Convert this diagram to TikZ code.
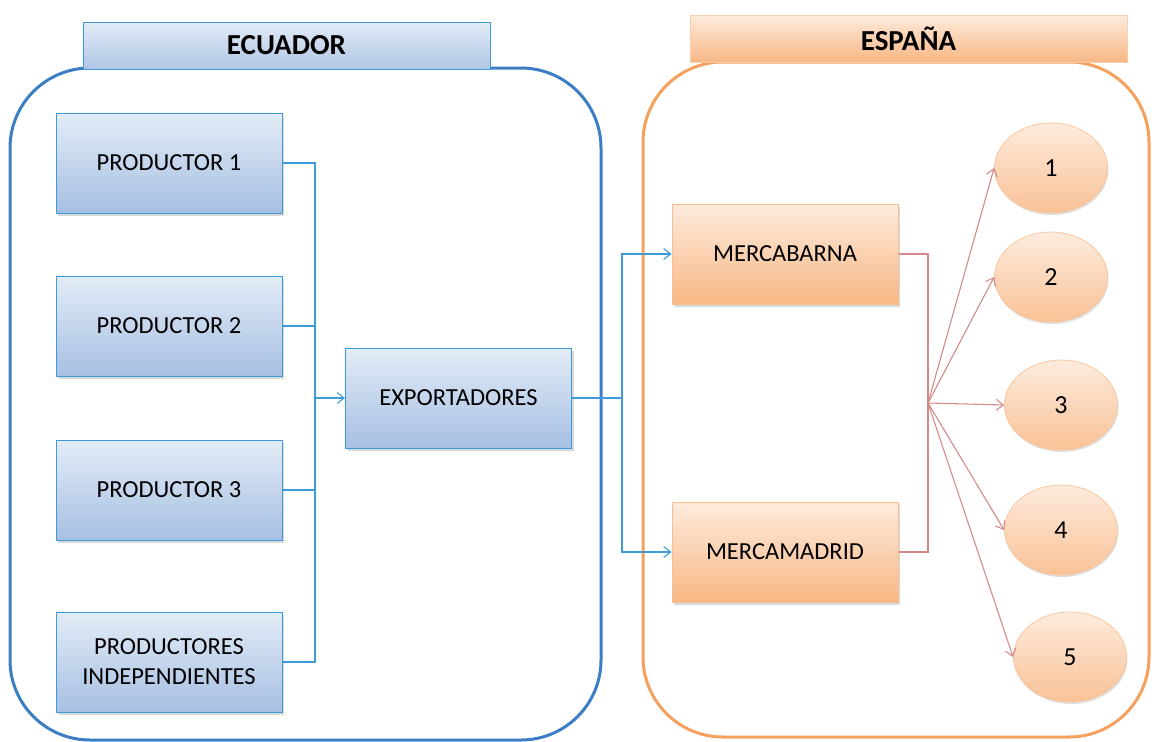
\documentclass[tikz,border=0pt]{standalone}
\usepackage{fontspec}
\setmainfont{Carlito}
\usetikzlibrary{shapes.geometric}
\usetikzlibrary{arrows.meta}
\usetikzlibrary{shadows}
\definecolor{eculine}{HTML}{3C7DC4}
\definecolor{ecubox}{HTML}{3E9BDB}
\definecolor{ecutop}{HTML}{E3ECF7}
\definecolor{ecubot}{HTML}{A6BFE2}
\definecolor{espline}{HTML}{F6A05E}
\definecolor{esptop}{HTML}{FDEBDD}
\definecolor{espbot}{HTML}{F8B784}
\definecolor{redline}{HTML}{D48A88}
\tikzset{
  ecubox/.style={draw=ecubox, line width=1pt, top color=ecutop, bottom color=ecubot,
    minimum width=226pt, minimum height=100pt, inner sep=2pt, align=center,
    font=\fontsize{24.5}{30}\selectfont,
    drop shadow={shadow xshift=2pt, shadow yshift=-3pt, opacity=0.3}},
  espbox/.style={draw=espline!70, line width=1pt, top color=esptop, bottom color=espbot,
    minimum width=226pt, minimum height=100pt, inner sep=2pt,
    font=\fontsize{24.5}{30}\selectfont,
    drop shadow={shadow xshift=2pt, shadow yshift=-3pt, opacity=0.3}},
  header/.style={minimum height=47pt, inner sep=0pt, font=\fontsize{29}{34}\selectfont\bfseries},
  destino/.style={ellipse, draw=espline!60, line width=0.8pt, top color=esptop, bottom color=espbot!85,
    minimum width=113pt, minimum height=90pt, inner sep=0pt, font=\fontsize{26}{30}\selectfont,
    drop shadow={shadow xshift=1pt, shadow yshift=-2pt, opacity=0.25}},
  blueline/.style={draw=ecubox, line width=1.1pt},
  redarr/.style={draw=redline, line width=1.1pt},
  tip/.style={-{Straight Barb[length=7pt, width=11pt]}}
}
\begin{document}
\begin{tikzpicture}[x=1pt, y=-1pt]
  \useasboundingbox (0,0) rectangle (1152,742);
  % containers
  \draw[eculine, line width=3pt, rounded corners=80pt] (10,68) rectangle (601,740);
  \draw[espline, line width=3pt, rounded corners=80pt] (643,62) rectangle (1149,737);
  \node[header, draw=ecubox, line width=1pt, top color=ecutop, bottom color=ecubot!90,
    minimum width=407pt] (ecuador) at (286.5,45.5) {ECUADOR};
  \node[header, draw=espline!50, line width=1pt, top color=esptop, bottom color=espbot,
    minimum width=437pt] (espana) at (908.5,38.5) {ESPAÑA};
  % ecuador
  \node[ecubox] (p1) at (169,163) {PRODUCTOR 1};
  \node[ecubox] (p2) at (169,326) {PRODUCTOR 2};
  \node[ecubox] (p3) at (169,490) {PRODUCTOR 3};
  \node[ecubox] (pi) at (169,662) {PRODUCTORES\\INDEPENDIENTES};
  \node[ecubox] (exp) at (458.5,398) {EXPORTADORES};
  % espana
  \node[espbox] (mb) at (785,254) {MERCABARNA};
  \node[espbox] (mm) at (785,552) {MERCAMADRID};
  \node[destino] (d1) at (1051,168) {1};
  \node[destino] (d2) at (1051,277) {2};
  \node[destino] (d3) at (1061,405) {3};
  \node[destino] (d4) at (1061,530) {4};
  \node[destino] (d5) at (1070,657) {5};
  % connectors
  \coordinate (busL) at (315,163);
  \coordinate (busM) at (622,398);
  \coordinate (hub) at (928,403);
  \draw[blueline] (p1.east) -- (busL) |- (pi.east);
  \draw[blueline] (p2.east) -- (p2.east -| busL);
  \draw[blueline] (p3.east) -- (p3.east -| busL);
  \draw[blueline, tip] (exp.west -| busL) -- (exp.west);
  \draw[blueline] (exp.east) -- (busM);
  \draw[blueline, tip] (busM) |- (mb.west);
  \draw[blueline, tip] (busM) |- (mm.west);
  \draw[redarr] (mb.east) -| (hub);
  \draw[redarr] (mm.east) -| (hub);
  \foreach \d in {d1,d2,d3,d4,d5}
    \draw[redarr, tip] (hub) -- (\d.west);
\end{tikzpicture}
\end{document}
